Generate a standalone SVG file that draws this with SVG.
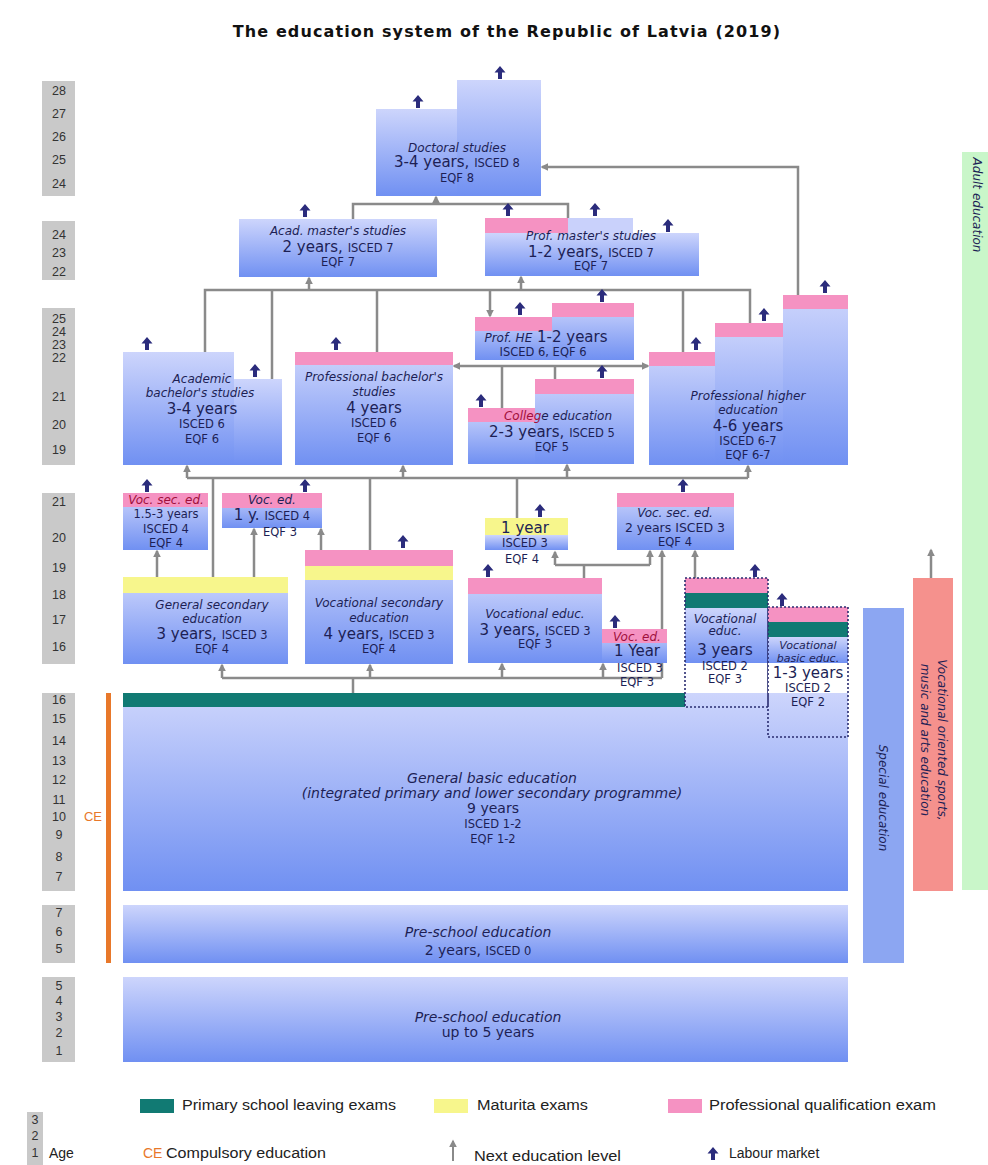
<svg xmlns="http://www.w3.org/2000/svg" xmlns:xlink="http://www.w3.org/1999/xlink" width="988" height="1165" viewBox="0 0 988 1165">
<style>
text{font-family:"DejaVu Sans","Liberation Sans",sans-serif;fill:#1d1f55;text-anchor:middle}
.lb{font-style:italic;font-size:12px}
.bg{font-size:15px}
.sm{font-size:11.5px}
.cr{fill:#a0103c}
.box{fill:url(#g)}
.pink{fill:#f592c2}
.yel{fill:#f7f68c}
.teal{fill:#117a73}
.age{fill:#c9c9c9}
.an{font-family:"Liberation Sans",sans-serif;font-size:12.5px;fill:#333}
.conn path{fill:none;stroke:#8a8a8a;stroke-width:2.5}
.conn path.a{marker-end:url(#ah)}
.dot{fill:none;stroke:#2a2c70;stroke-width:1.6;stroke-dasharray:2 2}
.lg{font-family:"Liberation Sans",sans-serif;font-size:14px;fill:#222;text-anchor:start}
.big14{font-size:14px}
</style>
<defs>
<linearGradient id="g" x1="0" y1="0" x2="0" y2="1"><stop offset="0" stop-color="#cdd5fc"/><stop offset="1" stop-color="#7090f2"/></linearGradient>
<marker id="ah" markerUnits="userSpaceOnUse" markerWidth="8" markerHeight="8" viewBox="0 0 10 10" refX="8" refY="5" orient="auto-start-reverse"><path d="M0,0 L10,5 L0,10 z" fill="#8a8a8a"/></marker>
<path id="lm" d="M0,-13 L5.5,-6.5 L2,-6.5 L2,0 L-2,0 L-2,-6.5 L-5.5,-6.5 Z" fill="#2b2c7c"/>
</defs>
<rect width="988" height="1165" fill="#fff"/>
<text x="507" y="37" style="font-weight:bold;font-size:16px;letter-spacing:1.1px;fill:#111">The education system of the Republic of Latvia (2019)</text>

<g id="ages">
<rect class="age" x="42" y="81" width="33" height="115"/>
<text class="an" x="59" y="95">28</text><text class="an" x="59" y="118">27</text><text class="an" x="59" y="141">26</text><text class="an" x="59" y="164">25</text><text class="an" x="59" y="188">24</text>
<rect class="age" x="42" y="221" width="33" height="59"/>
<text class="an" x="59" y="239">24</text><text class="an" x="59" y="257">23</text><text class="an" x="59" y="276">22</text>
<rect class="age" x="42" y="308" width="33" height="157"/>
<text class="an" x="59" y="323">25</text><text class="an" x="59" y="336">24</text><text class="an" x="59" y="349">23</text><text class="an" x="59" y="362">22</text><text class="an" x="59" y="401">21</text><text class="an" x="59" y="429">20</text><text class="an" x="59" y="454">19</text>
<rect class="age" x="42" y="493" width="33" height="171"/>
<text class="an" x="59" y="506">21</text><text class="an" x="59" y="542">20</text><text class="an" x="59" y="572">19</text><text class="an" x="59" y="599">18</text><text class="an" x="59" y="624">17</text><text class="an" x="59" y="651">16</text>
<rect class="age" x="42" y="693" width="33" height="198"/>
<text class="an" x="59" y="704">16</text><text class="an" x="59" y="723">15</text><text class="an" x="59" y="745">14</text><text class="an" x="59" y="765">13</text><text class="an" x="59" y="784">12</text><text class="an" x="59" y="804">11</text><text class="an" x="59" y="821">10</text><text class="an" x="59" y="839">9</text><text class="an" x="59" y="861">8</text><text class="an" x="59" y="881">7</text>
<rect class="age" x="42" y="905" width="33" height="58"/>
<text class="an" x="59" y="917">7</text><text class="an" x="59" y="936">6</text><text class="an" x="59" y="953">5</text>
<rect class="age" x="42" y="977" width="33" height="85"/>
<text class="an" x="59" y="990">5</text><text class="an" x="59" y="1005">4</text><text class="an" x="59" y="1021">3</text><text class="an" x="59" y="1037">2</text><text class="an" x="59" y="1055">1</text>
</g>

<g id="connectors" class="conn">
<path d="M353,219 V204 H568 V218"/>
<path class="a" d="M436,204 V197"/>
<path class="a" d="M798,295 V167 H542"/>
<path d="M205,352 V290 H750 V323"/>
<path d="M272,379 V290"/><path d="M377,352 V290"/><path d="M683,352 V290"/>
<path class="a" d="M309,290 V278"/><path class="a" d="M521,290 V277"/><path class="a" d="M490,290 V316"/>
<path class="a" style="marker-start:url(#ah)" d="M454,366 H648"/>
<path d="M502,408 V366"/><path d="M555,379 V366"/>
<path d="M187,478 H748"/>
<path class="a" d="M187,478 V466"/><path class="a" d="M403,478 V466"/><path class="a" d="M567,478 V465"/><path class="a" d="M748,478 V466"/>
<path d="M213,577 V478"/><path d="M370,550 V478"/><path d="M517,518 V478"/>
<path class="a" d="M157,577 V551"/><path class="a" d="M254,577 V529"/><path class="a" d="M321,550 V529"/>
<path d="M584,578 V565"/><path d="M555,565 H650"/>
<path class="a" d="M555,565 V552"/><path class="a" d="M650,565 V551"/>
<path class="a" d="M662,678 V551"/>
<path class="a" d="M695,578 V551"/>
<path d="M222,678 H662"/><path d="M353,678 V693"/>
<path class="a" d="M222,678 V665"/><path class="a" d="M370,678 V665"/><path class="a" d="M502,678 V664"/><path class="a" d="M603,678 V664"/>
<path class="a" d="M931,578 V550"/>
</g>

<g id="doctoral">
<rect class="box" x="376" y="109" width="81" height="87"/>
<rect class="box" x="457" y="80" width="84" height="116"/>
<text class="lb" x="457" y="152">Doctoral studies</text>
<text x="457" y="167"><tspan class="bg">3-4 years, </tspan><tspan class="sm">ISCED 8</tspan></text>
<text class="sm" x="457" y="182">EQF 8</text>
<use href="#lm" x="418" y="108"/><use href="#lm" x="500" y="79"/>
</g>

<g id="acad-master">
<rect class="box" x="239" y="219" width="198" height="58"/>
<text class="lb" x="338" y="235">Acad. master's studies</text>
<text x="338" y="252"><tspan class="bg">2 years, </tspan><tspan class="sm">ISCED 7</tspan></text>
<text class="sm" x="338" y="266">EQF 7</text>
<use href="#lm" x="305" y="217"/>
</g>

<g id="prof-master">
<rect class="box" x="485" y="233" width="214" height="43"/>
<rect class="pink" x="485" y="218" width="83" height="15"/>
<rect fill="#c9d1fb" x="568" y="218" width="65" height="15"/>
<text class="lb" x="591" y="240">Prof. master's studies</text>
<text x="591" y="257"><tspan class="bg">1-2 years, </tspan><tspan class="sm">ISCED 7</tspan></text>
<text class="sm" x="591" y="270">EQF 7</text>
<use href="#lm" x="508" y="216"/><use href="#lm" x="595" y="216"/><use href="#lm" x="668" y="232"/>
</g>

<g id="prof-he">
<rect class="box" x="475" y="317" width="159" height="43"/>
<rect class="pink" x="475" y="317" width="77" height="14"/>
<rect class="box" x="552" y="303" width="82" height="57"/>
<rect class="pink" x="552" y="303" width="82" height="14"/>
<text x="546" y="342"><tspan class="lb">Prof. HE</tspan><tspan class="bg"> 1-2 years</tspan></text>
<text class="sm" x="543" y="356">ISCED 6, EQF 6</text>
<use href="#lm" x="520" y="315"/><use href="#lm" x="602" y="302"/>
</g>

<g id="acad-bachelor">
<rect class="box" x="123" y="352" width="111" height="113"/>
<rect class="box" x="234" y="379" width="48" height="86"/>
<text class="lb" x="202" y="383">Academic</text>
<text class="lb" x="200" y="397">bachelor's studies</text>
<text class="bg" x="202" y="414">3-4 years</text>
<text class="sm" x="202" y="428">ISCED 6</text>
<text class="sm" x="202" y="443">EQF 6</text>
<use href="#lm" x="147" y="350"/><use href="#lm" x="255" y="377"/>
</g>

<g id="prof-bachelor">
<rect class="box" x="295" y="352" width="158" height="113"/>
<rect class="pink" x="295" y="352" width="158" height="13"/>
<text class="lb" x="374" y="381">Professional bachelor's</text>
<text class="lb" x="374" y="396">studies</text>
<text class="bg" x="374" y="413">4 years</text>
<text class="sm" x="374" y="427">ISCED 6</text>
<text class="sm" x="374" y="442">EQF 6</text>
<use href="#lm" x="336" y="350"/>
</g>

<g id="college">
<rect class="box" x="535" y="379" width="99" height="85"/>
<rect class="box" x="468" y="408" width="67" height="56"/>
<rect class="pink" x="535" y="379" width="99" height="15"/>
<rect class="pink" x="468" y="408" width="67" height="14"/>
<text class="lb" x="558" y="420"><tspan class="cr">Colleg</tspan>e education</text>
<text x="552" y="437"><tspan class="bg">2-3 years, </tspan><tspan class="sm">ISCED 5</tspan></text>
<text class="sm" x="552" y="451">EQF 5</text>
<use href="#lm" x="481" y="407"/><use href="#lm" x="602" y="378"/>
</g>

<g id="prof-higher">
<rect class="box" x="649" y="352" width="66" height="113"/>
<rect class="box" x="715" y="323" width="68" height="142"/>
<rect class="box" x="783" y="295" width="65" height="170"/>
<rect class="pink" x="649" y="352" width="66" height="14"/>
<rect class="pink" x="715" y="323" width="68" height="14"/>
<rect class="pink" x="783" y="295" width="65" height="14"/>
<text class="lb" x="748" y="400">Professional higher</text>
<text class="lb" x="748" y="414">education</text>
<text class="bg" x="748" y="431">4-6 years</text>
<text class="sm" x="748" y="445">ISCED 6-7</text>
<text class="sm" x="748" y="459">EQF 6-7</text>
<use href="#lm" x="696" y="350"/><use href="#lm" x="764" y="321"/><use href="#lm" x="825" y="293"/>
</g>

<g id="voc-sec-ed-4">
<rect class="box" x="123" y="493" width="85" height="57"/>
<rect class="pink" x="123" y="493" width="85" height="14"/>
<text class="lb cr" x="166" y="504">Voc. sec. ed.</text>
<text class="sm" x="166" y="518">1.5-3 years</text>
<text class="sm" x="166" y="533">ISCED 4</text>
<text class="sm" x="166" y="547">EQF 4</text>
<use href="#lm" x="147" y="492"/>
</g>

<g id="voc-ed-1y">
<rect class="box" x="222" y="493" width="100" height="35"/>
<rect class="pink" x="222" y="493" width="100" height="15"/>
<text class="lb" x="272" y="504">Voc. ed.</text>
<text x="272" y="520"><tspan class="bg">1 y. </tspan><tspan class="sm">ISCED 4</tspan></text>
<text class="sm" x="280" y="536">EQF 3</text>
<use href="#lm" x="305" y="492"/>
</g>

<g id="gen-secondary">
<rect class="box" x="123" y="577" width="165" height="87"/>
<rect class="yel" x="123" y="577" width="165" height="16"/>
<text class="lb" x="212" y="609">General secondary</text>
<text class="lb" x="212" y="623">education</text>
<text x="212" y="639"><tspan class="bg">3 years, </tspan><tspan class="sm">ISCED 3</tspan></text>
<text class="sm" x="212" y="653">EQF 4</text>
</g>

<g id="voc-secondary">
<rect class="box" x="305" y="550" width="148" height="114"/>
<rect class="pink" x="305" y="550" width="148" height="16"/>
<rect class="yel" x="305" y="566" width="148" height="14"/>
<text class="lb" x="379" y="607">Vocational secondary</text>
<text class="lb" x="379" y="622">education</text>
<text x="379" y="639"><tspan class="bg">4 years, </tspan><tspan class="sm">ISCED 3</tspan></text>
<text class="sm" x="379" y="653">EQF 4</text>
<use href="#lm" x="403" y="548"/>
</g>

<g id="one-year">
<rect class="box" x="485" y="535" width="83" height="15"/>
<rect class="yel" x="485" y="518" width="83" height="17"/>
<text class="bg" x="525" y="533">1 year</text>
<text class="sm" x="525" y="547">ISCED 3</text>
<text class="sm" x="522" y="563">EQF 4</text>
<use href="#lm" x="540" y="517"/>
</g>

<g id="voc-sec-ed-3">
<rect class="box" x="617" y="493" width="117" height="57"/>
<rect class="pink" x="617" y="493" width="117" height="14"/>
<text class="lb" x="675" y="517">Voc. sec. ed.</text>
<text style="font-size:12.5px" x="675" y="532">2 years ISCED 3</text>
<text class="sm" x="675" y="546">EQF 4</text>
<use href="#lm" x="683" y="492"/>
</g>

<g id="voc-educ-3y">
<rect class="box" x="468" y="578" width="134" height="85"/>
<rect class="pink" x="468" y="578" width="134" height="16"/>
<text class="lb" x="535" y="618">Vocational educ.</text>
<text x="535" y="635"><tspan class="bg">3 years, </tspan><tspan class="sm">ISCED 3</tspan></text>
<text class="sm" x="535" y="648">EQF 3</text>
<use href="#lm" x="488" y="577"/>
</g>

<g id="voc-ed-1year">
<rect class="box" x="602" y="629" width="65" height="34"/>
<rect class="pink" x="602" y="629" width="65" height="14"/>
<text class="lb cr" x="637" y="641">Voc. ed.</text>
<text class="bg" x="637" y="656">1 Year</text>
<text class="sm" x="640" y="672">ISCED 3</text>
<text class="sm" x="637" y="686">EQF 3</text>
<use href="#lm" x="615" y="628"/>
</g>

<g id="general-basic">
<rect class="box" x="123" y="693" width="725" height="198"/>
<rect class="teal" x="123" y="693" width="562" height="14"/>
<text class="lb big14" x="492" y="783">General basic education</text>
<text class="lb big14" x="492" y="798">(integrated primary and lower secondary programme)</text>
<text class="big14" x="493" y="813">9 years</text>
<text class="sm" x="493" y="828">ISCED 1-2</text>
<text class="sm" x="493" y="843">EQF 1-2</text>
</g>

<g id="voc-educ-isced2">
<rect class="box" x="685" y="608" width="83" height="55"/>
<rect fill="#fff" x="685" y="663" width="83" height="30"/>
<rect class="pink" x="685" y="578" width="83" height="15"/>
<rect class="teal" x="685" y="593" width="83" height="15"/>
<text class="lb" x="725" y="623">Vocational</text>
<text class="lb" x="725" y="635">educ.</text>
<text class="bg" x="725" y="655">3 years</text>
<text class="sm" x="725" y="670">ISCED 2</text>
<text class="sm" x="725" y="683">EQF 3</text>
<rect class="dot" x="685" y="578" width="83" height="129"/>
<use href="#lm" x="755" y="577"/>
</g>

<g id="voc-basic">
<rect class="box" x="768" y="637" width="80" height="26"/>
<rect fill="#fff" x="768" y="663" width="80" height="30"/>
<rect class="pink" x="768" y="607" width="80" height="15"/>
<rect class="teal" x="768" y="622" width="80" height="15"/>
<text class="lb" style="font-size:11px" x="808" y="649">Vocational</text>
<text class="lb" style="font-size:11px" x="808" y="662">basic educ.</text>
<text class="bg" x="808" y="678">1-3 years</text>
<text class="sm" x="808" y="692">ISCED 2</text>
<text class="sm" x="808" y="706">EQF 2</text>
<rect class="dot" x="768" y="607" width="80" height="130"/>
<use href="#lm" x="782" y="606"/>
</g>

<g id="special">
<rect x="863" y="608" width="41" height="355" fill="#8ca6f2"/>
<text class="lb" transform="translate(879,798) rotate(90)">Special education</text>
</g>

<g id="voc-sports">
<rect x="913" y="578" width="40" height="313" fill="#f5918d"/>
<text class="lb" transform="translate(938,740) rotate(90)">Vocational oriented sports,</text>
<text class="lb" transform="translate(921,740) rotate(90)">music and arts education</text>
</g>

<g id="adult">
<rect x="962" y="152" width="26" height="738" fill="#c9f6c9"/>
<text class="lb" transform="translate(973,205) rotate(90)">Adult education</text>
</g>

<g id="compulsory">
<rect x="106" y="693" width="5" height="270" fill="#e8782a"/>
<text x="93" y="821" style="font-family:'Liberation Sans',sans-serif;font-size:13px;fill:#e8782a">CE</text>
</g>

<g id="preschool-2">
<rect class="box" x="123" y="905" width="725" height="58"/>
<text class="lb big14" x="478" y="937">Pre-school education</text>
<text x="478" y="955"><tspan class="big14">2 years, </tspan><tspan class="sm">ISCED 0</tspan></text>
</g>

<g id="preschool-5">
<rect class="box" x="123" y="977" width="725" height="85"/>
<text class="lb big14" x="488" y="1022">Pre-school education</text>
<text class="big14" x="488" y="1037">up to 5 years</text>
</g>

<g id="legend">
<rect class="teal" x="140" y="1099" width="34" height="14"/>
<text class="lg" x="182" y="1110" textLength="214" lengthAdjust="spacingAndGlyphs">Primary school leaving exams</text>
<rect class="yel" x="434" y="1099" width="34" height="14"/>
<text class="lg" x="477" y="1110" textLength="111" lengthAdjust="spacingAndGlyphs">Maturita exams</text>
<rect class="pink" x="668" y="1099" width="34" height="14"/>
<text class="lg" x="709" y="1110" textLength="227" lengthAdjust="spacingAndGlyphs">Professional qualification exam</text>
<rect class="age" x="27" y="1112" width="16" height="53"/>
<text class="an" x="35" y="1124">3</text><text class="an" x="35" y="1140">2</text><text class="an" x="35" y="1157">1</text>
<text class="lg" x="49" y="1158">Age</text>
<text class="lg" x="143" y="1158" style="fill:#e8782a">CE</text>
<text class="lg" x="166" y="1158" textLength="160" lengthAdjust="spacingAndGlyphs">Compulsory education</text>
<path d="M453,1161 V1141" stroke="#8a8a8a" stroke-width="2" marker-end="url(#ah)"/>
<text class="lg" x="474" y="1161" textLength="147" lengthAdjust="spacingAndGlyphs">Next education level</text>
<use href="#lm" x="713" y="1160"/>
<text class="lg" x="729" y="1158">Labour market</text>
</g>
</svg>
